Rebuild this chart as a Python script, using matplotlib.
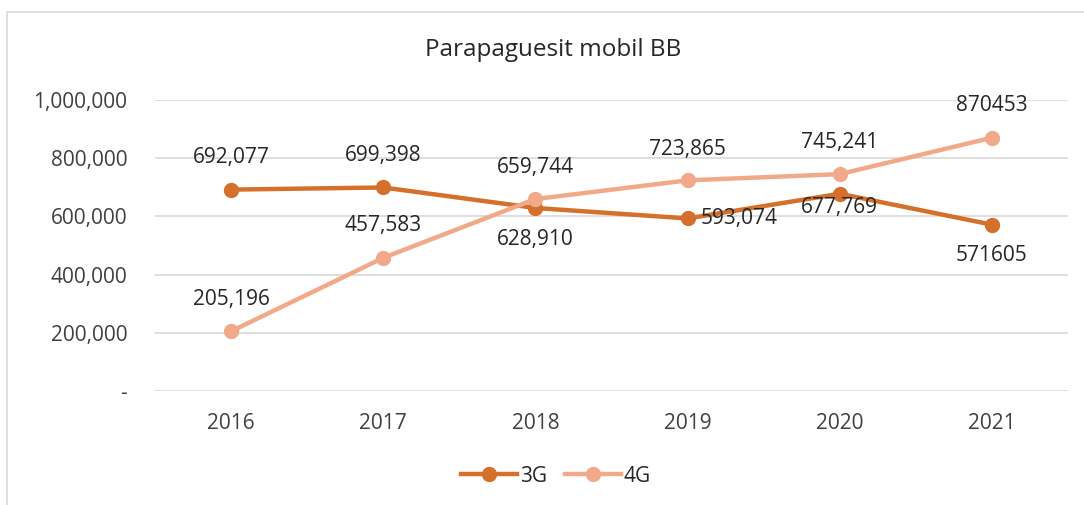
import matplotlib
matplotlib.use('Agg')
import matplotlib.pyplot as plt
from matplotlib.patches import Rectangle
from matplotlib.ticker import FuncFormatter

plt.rcParams['font.family'] = ['Open Sans', 'DejaVu Sans']

years = ['2016', '2017', '2018', '2019', '2020', '2021']
g3 = [692077, 699398, 628910, 593074, 677769, 571605]
g4 = [205196, 457583, 659744, 723865, 745241, 870453]
g3_labels = ['692,077', '699,398', '628,910', '593,074', '677,769', '571605']
g4_labels = ['205,196', '457,583', '659,744', '723,865', '745,241', '870453']

c3 = '#D4702B'
c4 = '#F2A98A'
fs = 15

fig = plt.figure(figsize=(10.84, 5.05), dpi=100)
fig.patches.append(Rectangle((7 / 1084, -0.01), 1.1, 1 - 12 / 505 + 0.01,
                             transform=fig.transFigure, fill=False,
                             edgecolor='#D9D9D9', lw=1.2))
ax = fig.add_axes([155 / 1084, 1 - 391 / 505, (1068 - 155) / 1084, (391 - 100) / 505])

x = list(range(len(years)))
ax.plot(x, g3, color=c3, lw=3.2, marker='o', ms=10, label='3G', zorder=3)
ax.plot(x, g4, color=c4, lw=3.2, marker='o', ms=10, label='4G', zorder=3)

ax.set_xlim(-0.5, len(years) - 0.5)
ax.set_ylim(0, 1000000)
ax.set_yticks([0, 200000, 400000, 600000, 800000, 1000000])
ax.yaxis.set_major_formatter(FuncFormatter(lambda v, p: '-' if v == 0 else f'{int(v):,}'))
ax.set_xticks(x)
ax.set_xticklabels(years)
ax.grid(axis='y', color='#D9D9D9', lw=1.2)
ax.set_axisbelow(True)
for s in ax.spines.values():
    s.set_visible(False)
ax.tick_params(length=0, labelsize=fs, colors='#404040')
ax.tick_params(axis='x', pad=16)
ax.tick_params(axis='y', pad=20)

# label placement (dx, dy in points)
pos3 = [(0, 23), (0, 23), (0, -23), (37, 0), (0, -10), (0, -22)]
pos4 = [(0, 23), (0, 23), (0, 23), (0, 22), (0, 23), (0, 23)]
for i in x:
    ax.annotate(g3_labels[i], (i, g3[i]), xytext=pos3[i], textcoords='offset points',
                ha='center', va='center', fontsize=fs, color='#262626')
    ax.annotate(g4_labels[i], (i, g4[i]), xytext=pos4[i], textcoords='offset points',
                ha='center', va='center', fontsize=fs, color='#262626')

fig.text(0.51, 1 - 50 / 505, 'Parapaguesit mobil BB', fontsize=17.5, color='#262626',
         ha='center', va='center')

leg = fig.legend(loc='center', bbox_to_anchor=(0.513, 1 - 476 / 505), ncol=2,
                 frameon=False, fontsize=fs, handlelength=2.65, columnspacing=0.9,
                 handletextpad=0.15)
for t in leg.get_texts():
    t.set_color('#262626')

fig.savefig('out.png', dpi=100)
